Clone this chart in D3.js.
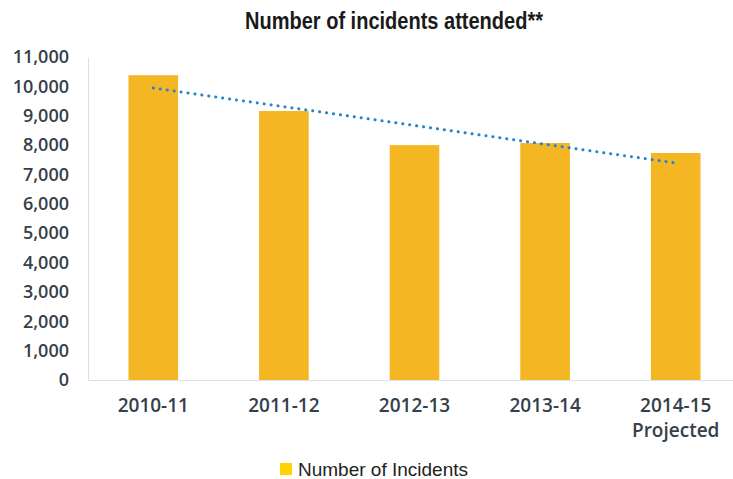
<!DOCTYPE html>
<html>
<head>
<meta charset="utf-8">
<script src="https://cdn.jsdelivr.net/npm/d3@7"></script>
<style>
  body { margin: 0; background: #fff; }
  svg { display: block; }
</style>
</head>
<body>
<div id="chart"></div>
<script>
const categories = ['2010-11', '2011-12', '2012-13', '2013-14', '2014-15']
const subLabels = ['', '', '', '', 'Projected']
const incidents = [10380, 9160, 8000, 8070, 7730]
const yTicks = [0, 1000, 2000, 3000, 4000, 5000, 6000, 7000, 8000, 9000, 10000, 11000]

const W = 733, H = 479
const margin = { top: 57, right: -8, bottom: 100, left: 88 }
const labelFont = '"Open Sans", "Noto Sans", sans-serif'

const svg = d3.select('#chart').append('svg')
  .attr('width', W)
  .attr('height', H)

const x = d3.scaleBand()
  .domain(categories)
  .range([margin.left, W - margin.right])
  .paddingInner(0.62)
  .paddingOuter(0.31)

const y = d3.scaleLinear()
  .domain([0, 11000])
  .range([H - margin.bottom + 1, margin.top])

// Title (condensed look via textLength)
svg.append('text')
  .attr('x', 245)
  .attr('y', 29)
  .attr('textLength', 298)
  .attr('lengthAdjust', 'spacingAndGlyphs')
  .attr('font-family', '"Liberation Sans Narrow", "Liberation Sans", Arial, sans-serif')
  .attr('font-weight', 'bold')
  .attr('font-size', 23)
  .attr('fill', '#1a1a1a')
  .text('Number of incidents attended**')

// Y axis
const yAxis = d3.axisLeft(y)
  .tickValues(yTicks)
  .tickSize(0)
  .tickPadding(19)
  .tickFormat(d3.format(','))

const gy = svg.append('g')
  .attr('transform', `translate(${margin.left},0)`)
  .call(yAxis)
gy.select('.domain').attr('stroke', '#d6e2ee')
gy.selectAll('text')
  .attr('font-family', labelFont)
  .attr('font-weight', 600)
  .attr('font-size', 18)
  .attr('fill', '#34404a')

// Bars
svg.append('g').selectAll('rect')
  .data(incidents)
  .enter().append('rect')
  .attr('x', (d, i) => x(categories[i]))
  .attr('width', x.bandwidth())
  .attr('y', d => y(d))
  .attr('height', d => y(0) - y(d))
  .attr('fill', '#f4b623')

// X axis
const xAxis = d3.axisBottom(x).tickSize(0).tickPadding(19)
const gx = svg.append('g')
  .attr('transform', `translate(0,${y(0)})`)
  .call(xAxis)
gx.select('.domain').attr('stroke', '#d6e2ee')
gx.selectAll('.tick text')
  .attr('font-family', labelFont)
  .attr('font-weight', 600)
  .attr('font-size', 19)
  .attr('fill', '#34404a')
  .each(function (d, i) {
    if (subLabels[i]) {
      d3.select(this.parentNode).append('text')
        .attr('y', 44)
        .attr('dy', '0.71em')
        .attr('text-anchor', 'middle')
        .attr('font-family', labelFont)
        .attr('font-weight', 600)
        .attr('font-size', 19)
        .attr('fill', '#34404a')
        .text(subLabels[i])
    }
  })

// Linear trend line (least squares over the bar values)
const xs = incidents.map((d, i) => i)
const mx = d3.mean(xs), my = d3.mean(incidents)
const slope = d3.sum(xs, i => (i - mx) * (incidents[i] - my)) / d3.sum(xs, i => (i - mx) ** 2)
const intercept = my - slope * mx
const trend = xs.map(i => ({ cat: categories[i], v: intercept + slope * i }))

svg.append('path')
  .datum(trend)
  .attr('fill', 'none')
  .attr('stroke', '#2484cc')
  .attr('stroke-width', 3)
  .attr('stroke-linecap', 'round')
  .attr('stroke-dasharray', '0.1 6.9')
  .attr('d', d3.line()
    .x(d => x(d.cat) + x.bandwidth() / 2)
    .y(d => y(d.v)))

// Legend
const legend = svg.append('g').attr('transform', 'translate(280,463)')
legend.append('rect')
  .attr('width', 12)
  .attr('height', 12)
  .attr('fill', '#ffd200')
legend.append('text')
  .attr('x', 18)
  .attr('y', 13)
  .attr('font-family', '"Liberation Sans", Arial, sans-serif')
  .attr('font-size', 19)
  .attr('fill', '#222')
  .text('Number of Incidents')
</script>
</body>
</html>
